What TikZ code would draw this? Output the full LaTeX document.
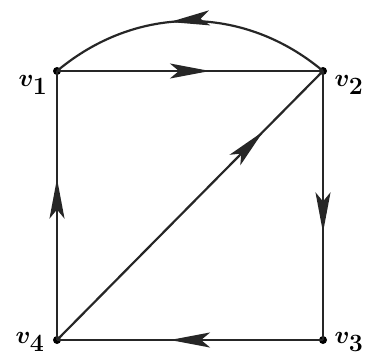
\documentclass[tikz,border=0pt]{standalone}
\usetikzlibrary{arrows.meta,decorations.markings}
\begin{document}
\begin{tikzpicture}[x=1pt,y=-1pt,
  edge/.style={line width=2.2pt, black!85},
  mid/.style={postaction={decorate},decoration={markings,
     mark=at position #1 with {\arrow{Stealth[length=40pt,width=15pt,inset=9pt]}}}},
  vtx/.style={circle, fill=black, inner sep=0pt, minimum size=8pt},
  lab/.style={font=\fontsize{34}{34}\selectfont\boldmath, inner sep=0pt}]
\useasboundingbox (0,0) rectangle (370,356);
\node[vtx] (v1) at (57,71) {};
\node[vtx] (v2) at (323,71) {};
\node[vtx] (v3) at (323,340) {};
\node[vtx] (v4) at (57,340) {};
\node[lab] (l1) at (33,85) {$v_1$};
\node[lab] (l2) at (349,85) {$v_2$};
\node[lab] (l3) at (349,342) {$v_3$};
\node[lab] (l4) at (30,342) {$v_4$};
\draw[edge, mid=0.575] (v1.center) -- (v2.center);
\draw[edge, mid=0.57] (v2.center) to[bend right=40] (v1.center);
\draw[edge, mid=0.6] (v2.center) -- (v3.center);
\draw[edge, mid=0.575] (v3.center) -- (v4.center);
\draw[edge, mid=0.6] (v4.center) -- (v1.center);
\draw[edge, mid=0.775] (v4.center) -- (v2.center);
\end{tikzpicture}
\end{document}
